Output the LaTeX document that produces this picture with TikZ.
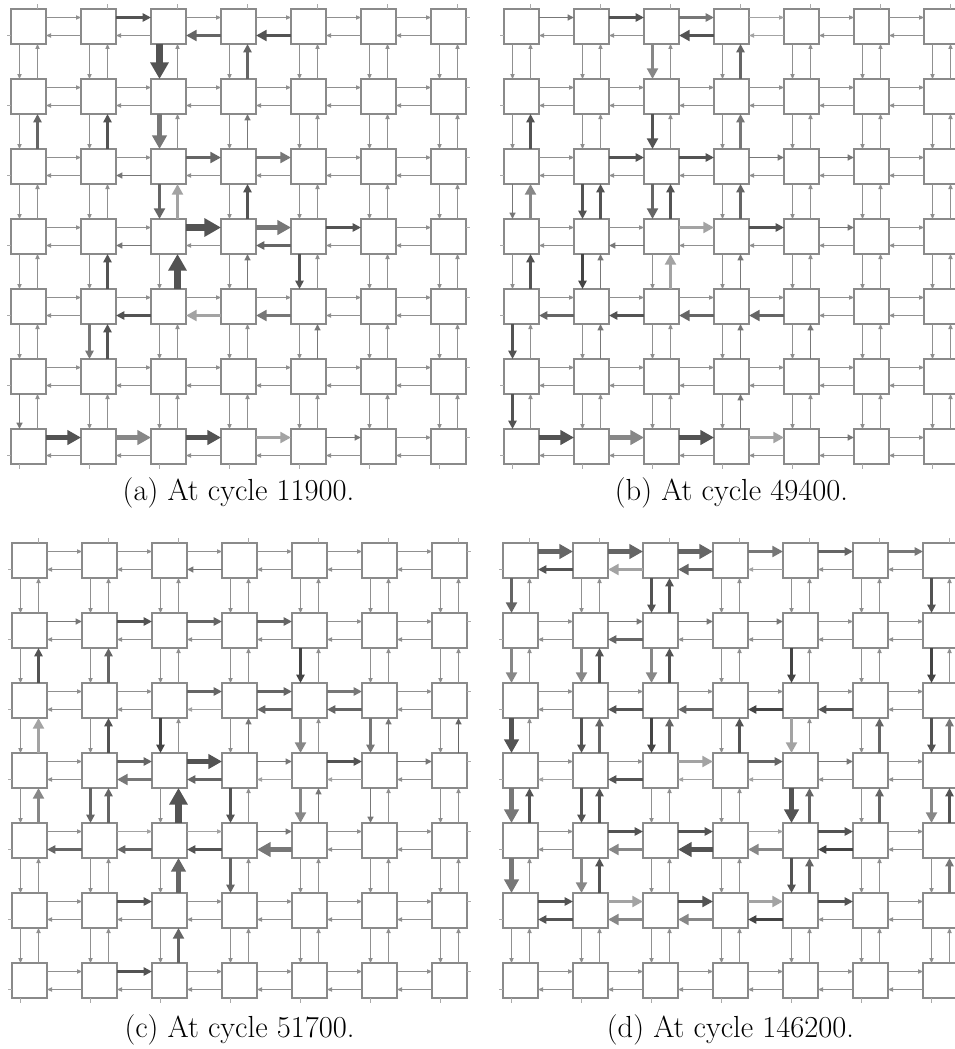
\documentclass[tikz,border=0pt]{standalone}
\usetikzlibrary{arrows.meta}
\definecolor{thinc}{HTML}{909090}
\definecolor{cLc}{HTML}{A3A3A3}
\definecolor{cPc}{HTML}{878787}
\definecolor{cMc}{HTML}{777777}
\definecolor{cNc}{HTML}{656565}
\definecolor{cDc}{HTML}{535353}
\definecolor{cKc}{HTML}{444444}
\definecolor{boxc}{HTML}{8A8A8A}
\definecolor{stubc}{HTML}{AAAAAA}
\tikzset{
 cell/.style={draw=boxc, line width=1.2pt, fill=white, minimum size=35pt, inner sep=0pt, outer sep=0pt},
 arr/.style={draw=thinc, line width=1pt, -{Triangle[length=3pt 2, width=2pt 2.3]}},
 stub/.style={draw=stubc, line width=0.8pt},
 w0/.style={}, w1/.style={line width=1.7pt}, w2/.style={line width=2.7pt},
 w3/.style={line width=3.8pt}, w4/.style={line width=5.3pt}, w5/.style={line width=6.8pt},
 cL/.style={draw=cLc}, cP/.style={draw=cPc}, cM/.style={draw=cMc},
 cN/.style={draw=cNc}, cD/.style={draw=cDc}, cK/.style={draw=cKc},
 capt/.style={anchor=base, font=\fontsize{30.5}{36}\selectfont, inner sep=0pt}
}
\newcommand\sd[3]{\expandafter\def\csname S@#1\endcsname{w#2,c#3}}
\newcommand\getsty[1]{\ifcsname S@#1\endcsname\edef\sty{\csname S@#1\endcsname}\else\def\sty{}\fi}
\newcommand\harr[4]{%
  \getsty{#1R#2#3}%
  \edef\tmp{\noexpand\draw[arr,\sty] ([yshift=-8.5pt]#1#2#3.north east) -- ([yshift=-8.5pt]#1#2#4.north west);}\tmp
  \getsty{#1L#2#3}%
  \edef\tmp{\noexpand\draw[arr,\sty] ([yshift=8.5pt]#1#2#4.south west) -- ([yshift=8.5pt]#1#2#3.south east);}\tmp
}
\newcommand\varr[4]{%
  \getsty{#1D#2#4}%
  \edef\tmp{\noexpand\draw[arr,\sty] ([xshift=8.5pt]#1#2#4.south west) -- ([xshift=8.5pt]#1#3#4.north west);}\tmp
  \getsty{#1U#2#4}%
  \edef\tmp{\noexpand\draw[arr,\sty] ([xshift=-8.5pt]#1#3#4.north east) -- ([xshift=-8.5pt]#1#2#4.south east);}\tmp
}
\newcommand\panel[3]{%
  \foreach \r in {0,...,6}{\foreach \c in {0,...,6}{
    \node[cell] (#1\r\c) at ({#2+17.5+70*\c},{#3+17.5+70*\r}) {};
  }}
  \foreach \r in {0,...,6}{\foreach \c [evaluate=\c as \cn using int(\c+1)] in {0,...,5}{
    \harr{#1}{\r}{\c}{\cn}
  }}
  \foreach \r [evaluate=\r as \rn using int(\r+1)] in {0,...,5}{\foreach \c in {0,...,6}{
    \varr{#1}{\r}{\rn}{\c}
  }}
  \foreach \k in {0,...,6}{
    \draw[stub] ([xshift=-8.5pt]#10\k.north east) -- ++(0,-5);
    \draw[stub] ([xshift=8.5pt]#16\k.south west) -- ++(0,5);
    \draw[stub] ([yshift=8.5pt]#1\k0.south west) -- ++(-4,0);
    \draw[stub] ([yshift=-8.5pt]#1\k6.north east) -- ++(4,0);
  }
}
% ---------- panel a
\sd{aR01}{2}{D}\sd{aL02}{3}{N}\sd{aL03}{3}{D}\sd{aD02}{5}{D}\sd{aU03}{2}{N}
\sd{aU10}{2}{N}\sd{aU11}{2}{D}\sd{aD12}{4}{M}\sd{aU13}{1}{M}
\sd{aR22}{3}{N}\sd{aR23}{3}{M}\sd{aL21}{1}{M}\sd{aD22}{3}{N}\sd{aU22}{3}{L}\sd{aU23}{2}{D}
\sd{aR32}{5}{D}\sd{aR33}{4}{M}\sd{aR34}{2}{D}\sd{aL31}{1}{M}\sd{aL33}{2}{N}
\sd{aU31}{2}{D}\sd{aU32}{5}{D}\sd{aU33}{1}{M}\sd{aD34}{2}{D}
\sd{aL41}{2}{D}\sd{aL42}{3}{L}\sd{aL43}{3}{M}\sd{aD41}{2}{M}\sd{aU41}{2}{D}\sd{aU44}{1}{M}
\sd{aD50}{1}{M}
\sd{aR60}{4}{D}\sd{aR61}{4}{P}\sd{aR62}{4}{D}\sd{aR63}{3}{L}\sd{aR64}{1}{M}
% ---------- panel b
\sd{bR00}{1}{M}\sd{bR01}{2}{D}\sd{bR02}{2}{M}\sd{bR03}{0}{L}\sd{bL02}{3}{D}\sd{bL03}{0}{L}
\sd{bD02}{3}{P}\sd{bU03}{2}{N}
\sd{bU10}{2}{D}\sd{bD12}{3}{D}\sd{bU13}{2}{M}
\sd{bR21}{2}{D}\sd{bR22}{2}{D}\sd{bR23}{1}{M}\sd{bR24}{1}{M}
\sd{bD20}{1}{M}\sd{bU20}{3}{P}\sd{bD21}{2}{D}\sd{bU21}{2}{D}\sd{bD22}{3}{N}\sd{bU22}{2}{D}\sd{bU23}{2}{N}
\sd{bR32}{3}{L}\sd{bR33}{2}{D}\sd{bR34}{1}{M}\sd{bL31}{1}{M}
\sd{bU30}{2}{D}\sd{bD31}{2}{K}\sd{bU31}{1}{M}\sd{bU32}{3}{L}\sd{bU33}{1}{M}
\sd{bL40}{2}{N}\sd{bL41}{2}{D}\sd{bL42}{3}{N}\sd{bL43}{3}{N}
\sd{bD40}{2}{D}\sd{bU41}{1}{M}\sd{bU43}{1}{M}\sd{bU44}{1}{M}
\sd{bD50}{2}{D}\sd{bU53}{1}{M}
\sd{bR60}{4}{D}\sd{bR61}{4}{P}\sd{bR62}{4}{D}\sd{bR63}{3}{L}\sd{bR64}{1}{M}
% ---------- panel c
\sd{cL02}{1}{M}
\sd{cR10}{1}{M}\sd{cR11}{2}{D}\sd{cR12}{2}{N}\sd{cR13}{2}{N}
\sd{cU10}{2}{D}\sd{cU11}{2}{N}\sd{cD14}{2}{K}
\sd{cR22}{2}{N}\sd{cR23}{2}{N}\sd{cR24}{2}{M}\sd{cL22}{0}{L}\sd{cL23}{2}{N}\sd{cL24}{2}{N}
\sd{cU20}{3}{L}\sd{cU21}{2}{D}\sd{cD22}{2}{K}\sd{cU23}{1}{M}\sd{cD24}{3}{P}\sd{cD25}{2}{M}\sd{cU25}{1}{M}\sd{cU26}{1}{N}
\sd{cR31}{2}{N}\sd{cR32}{4}{D}\sd{cR33}{1}{M}\sd{cR34}{2}{D}\sd{cR35}{1}{M}
\sd{cL31}{3}{M}\sd{cL32}{2}{N}\sd{cL33}{0}{L}\sd{cL34}{0}{L}
\sd{cU30}{3}{P}\sd{cD31}{2}{N}\sd{cU31}{2}{N}\sd{cU32}{5}{D}\sd{cD33}{2}{D}\sd{cD34}{3}{P}\sd{cU34}{1}{M}\sd{cD35}{1}{M}
\sd{cR41}{0}{L}\sd{cR42}{0}{L}\sd{cR43}{1}{M}
\sd{cL40}{2}{N}\sd{cL41}{2}{N}\sd{cL42}{2}{D}\sd{cL43}{4}{M}
\sd{cU42}{4}{N}\sd{cD43}{2}{N}
\sd{cR51}{2}{D}\sd{cU52}{3}{N}\sd{cR61}{2}{D}
% ---------- panel d
\sd{dR00}{4}{N}\sd{dR01}{4}{N}\sd{dR02}{4}{N}\sd{dR03}{3}{M}\sd{dR04}{2}{N}\sd{dR05}{2}{M}
\sd{dL00}{2}{D}\sd{dL01}{3}{L}\sd{dL02}{3}{N}\sd{dL03}{0}{L}
\sd{dD00}{3}{N}\sd{dD02}{2}{D}\sd{dU02}{2}{D}\sd{dD06}{2}{D}
\sd{dR11}{1}{M}\sd{dR12}{1}{M}\sd{dR13}{1}{M}\sd{dL11}{2}{N}
\sd{dD10}{3}{P}\sd{dD11}{3}{P}\sd{dU11}{2}{D}\sd{dD12}{3}{P}\sd{dU12}{2}{D}\sd{dD14}{2}{K}\sd{dD16}{2}{K}
\sd{dL21}{2}{D}\sd{dL22}{2}{N}\sd{dL23}{2}{K}\sd{dL24}{2}{D}
\sd{dD20}{4}{D}\sd{dD21}{2}{D}\sd{dU21}{2}{N}\sd{dD22}{2}{K}\sd{dU22}{2}{N}\sd{dU23}{2}{D}
\sd{dD24}{3}{L}\sd{dU25}{2}{N}\sd{dD26}{2}{D}\sd{dU26}{2}{M}
\sd{dR32}{3}{L}\sd{dR33}{2}{N}\sd{dR34}{1}{M}\sd{dL31}{2}{D}\sd{dL30}{0}{L}\sd{dL32}{0}{L}\sd{dL33}{0}{L}
\sd{dD30}{4}{M}\sd{dU30}{2}{D}\sd{dD31}{2}{D}\sd{dU31}{2}{D}\sd{dD34}{4}{D}\sd{dU34}{2}{N}\sd{dU35}{2}{N}\sd{dD36}{3}{P}\sd{dU36}{2}{D}
\sd{dR41}{2}{D}\sd{dR42}{2}{D}\sd{dR43}{0}{L}\sd{dR44}{2}{D}
\sd{dL41}{3}{P}\sd{dL42}{4}{D}\sd{dL43}{3}{P}\sd{dL44}{2}{K}
\sd{dD40}{4}{M}\sd{dD41}{3}{P}\sd{dU41}{2}{D}\sd{dD44}{2}{D}\sd{dU44}{2}{N}\sd{dU46}{2}{M}
\sd{dR50}{2}{D}\sd{dR51}{3}{L}\sd{dR52}{3}{D}\sd{dR53}{3}{L}\sd{dR54}{2}{D}
\sd{dL50}{2}{D}\sd{dL51}{3}{P}\sd{dL52}{3}{P}\sd{dL53}{2}{K}
\begin{document}
\begin{tikzpicture}[x=1pt,y=-1pt]
\useasboundingbox (0,0) rectangle (954,1049);
\panel{a}{11}{9}
\panel{b}{504}{9}
\panel{c}{12}{543}
\panel{d}{503}{543}
\node[capt] (capa) at (238.5,500) {(a) At cycle 11900.};
\node[capt] (capb) at (731.5,500) {(b) At cycle 49400.};
\node[capt] (capc) at (239.5,1037) {(c) At cycle 51700.};
\node[capt] (capd) at (730.5,1037) {(d) At cycle 146200.};
\end{tikzpicture}
\end{document}
